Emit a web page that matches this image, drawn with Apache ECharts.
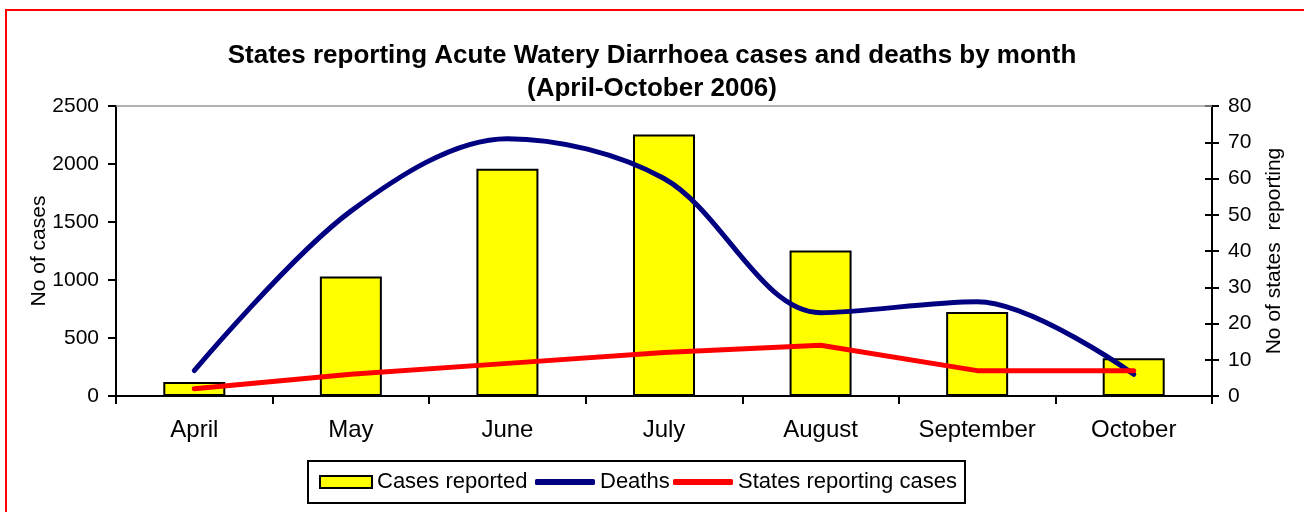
<!DOCTYPE html>
<html>
<head>
<meta charset="utf-8">
<script src="https://cdn.jsdelivr.net/npm/echarts@6/dist/echarts.min.js"></script>
<style>
    html, body {
        margin: 0;
        padding: 0;
        background: #fff;
    }
    #chart {
        width: 1304px;
        height: 512px;
    }
</style>
</head>
<body>
<div id="chart"></div>
<script>
const months = ["April", "May", "June", "July", "August", "September", "October"];
const casesReported = [120, 1030, 1960, 2255, 1255, 725, 325];
const deaths = [7, 51, 71, 60, 23, 26, 6];
const statesReporting = [2, 6, 9, 12, 14, 7, 7];
const casesTicks = [0, 2500, 500];
const statesTicks = [0, 80, 10];

const font = "Liberation Sans, Arial, sans-serif";
const black = "#000";

let chart = echarts.init(document.getElementById("chart"));

function legendPart(name, left, width, height, icon) {
    return {
        left: left,
        top: 471,
        padding: 0,
        itemWidth: width,
        itemHeight: height,
        icon: icon,
        selectedMode: false,
        textStyle: { fontFamily: font, fontSize: 22, color: black },
        data: [name],
    };
}

chart.setOption({
    animation: false,
    textStyle: { fontFamily: font, color: black },
    title: {
        text: "States reporting Acute Watery Diarrhoea cases and deaths by month\n(April-October 2006)",
        left: "center",
        top: 34,
        textStyle: {
            fontFamily: font,
            fontSize: 26,
            fontWeight: "bold",
            color: black,
            lineHeight: 33,
        },
    },
    graphic: [
        {
            type: "rect",
            shape: { x: 6, y: 10, width: 1310, height: 520 },
            style: { fill: "none", stroke: "#ff0000", lineWidth: 2 },
            silent: true,
        },
        {
            type: "rect",
            shape: { x: 308, y: 461, width: 657, height: 42 },
            style: { fill: "none", stroke: black, lineWidth: 2 },
            silent: true,
        },
    ],
    legend: [
        legendPart("Cases reported", 319, 52, 12, "rect"),
        legendPart("Deaths", 535, 60, 6, "roundRect"),
        legendPart("States reporting cases", 673, 60, 6, "roundRect"),
    ],
    grid: {
        left: 116,
        right: 92,
        top: 106,
        bottom: 116,
    },
    xAxis: {
        type: "category",
        data: months,
        axisLine: { lineStyle: { color: black, width: 2 } },
        axisTick: { show: true, length: 8, lineStyle: { color: black, width: 2 } },
        axisLabel: { fontFamily: font, fontSize: 24, color: black, margin: 22 },
    },
    yAxis: [
        {
            type: "value",
            min: casesTicks[0],
            max: casesTicks[1],
            interval: casesTicks[2],
            name: "No of cases",
            nameLocation: "middle",
            nameGap: 66,
            nameMoveOverlap: false,
            nameTextStyle: { fontFamily: font, fontSize: 21, color: black },
            axisLine: { show: true, lineStyle: { color: black, width: 2 } },
            axisTick: { show: true, length: 8, lineStyle: { color: black, width: 2 } },
            axisLabel: { fontFamily: font, fontSize: 21, color: black, margin: 17, formatter: (v) => String(v) },
            splitLine: { show: false },
        },
        {
            type: "value",
            min: statesTicks[0],
            max: statesTicks[1],
            interval: statesTicks[2],
            name: "No of states  reporting",
            nameLocation: "middle",
            nameGap: 52,
            nameTextStyle: { fontFamily: font, fontSize: 21, color: black },
            axisLine: { show: true, lineStyle: { color: black, width: 2 } },
            axisTick: { show: true, length: 7, lineStyle: { color: black, width: 2 } },
            axisLabel: { fontFamily: font, fontSize: 21, color: black, margin: 16 },
            splitLine: { show: false },
        },
        {
            // inner half of the crossing ticks on the right axis
            type: "value",
            position: "right",
            min: statesTicks[0],
            max: statesTicks[1],
            interval: statesTicks[2],
            axisLine: { show: false },
            axisTick: { show: true, inside: true, length: 7, lineStyle: { color: black, width: 2 } },
            axisLabel: { show: false },
            splitLine: { show: false },
        },
    ],
    series: [
        {
            name: "Cases reported",
            type: "bar",
            yAxisIndex: 0,
            barWidth: 62,
            data: casesReported,
            itemStyle: { color: "#ffff00", borderColor: black, borderWidth: 2 },
            markLine: {
                silent: true,
                symbol: "none",
                label: { show: false },
                lineStyle: { color: "#999", type: "solid", width: 1.5 },
                data: [{ yAxis: casesTicks[1] }],
            },
        },
        {
            name: "Deaths",
            type: "line",
            yAxisIndex: 1,
            smooth: 0.33,
            symbol: "none",
            data: deaths,
            itemStyle: { color: "#000080" },
            lineStyle: { color: "#000080", width: 5, cap: "round" },
        },
        {
            name: "States reporting cases",
            type: "line",
            yAxisIndex: 1,
            symbol: "none",
            data: statesReporting,
            itemStyle: { color: "#ff0000" },
            lineStyle: { color: "#ff0000", width: 5, cap: "round" },
        },
    ],
});
</script>
</body>
</html>
